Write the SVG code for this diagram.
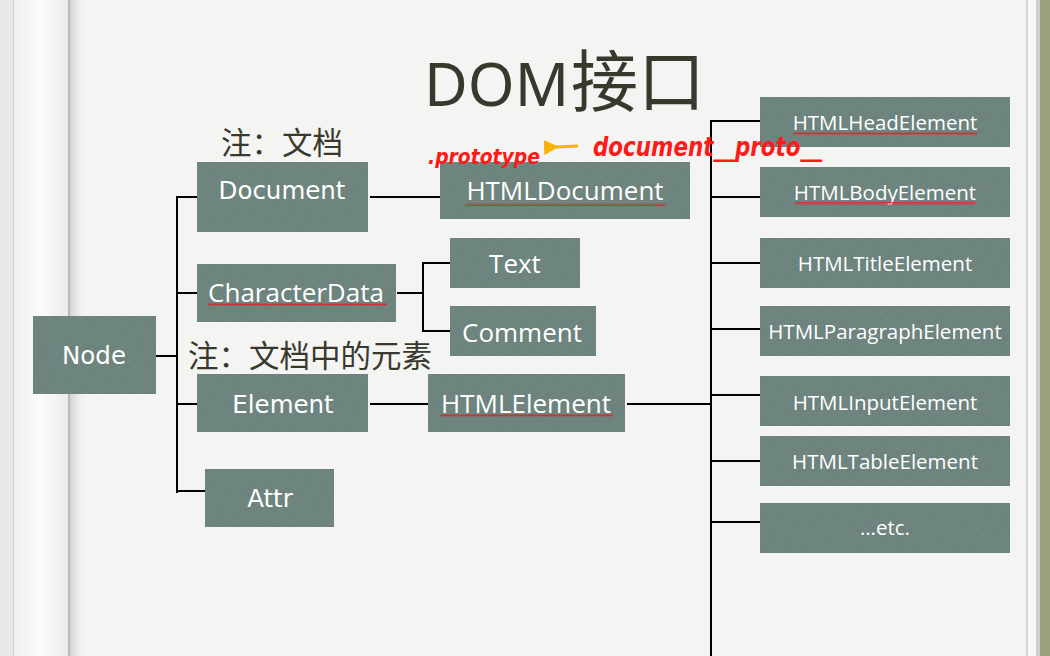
<svg xmlns="http://www.w3.org/2000/svg" width="1050" height="656" viewBox="0 0 1050 656">
<defs>
<linearGradient id="margin" x1="0" y1="0" x2="1" y2="0">
<stop offset="0" stop-color="#efefef"/>
<stop offset="0.5" stop-color="#fbfbfb"/>
<stop offset="1" stop-color="#ececec"/>
</linearGradient>
<linearGradient id="shadow" x1="0" y1="0" x2="1" y2="0">
<stop offset="0" stop-color="#d4d4d4"/>
<stop offset="1" stop-color="#f4f4f2" stop-opacity="0"/>
</linearGradient>
<pattern id="hatch" width="8" height="8" patternUnits="userSpaceOnUse" patternTransform="rotate(-35)">
<rect width="8" height="8" fill="#6d837d"/>
<line x1="0" y1="2" x2="8" y2="2" stroke="#7a8f89" stroke-width="1" opacity="0.5"/>
</pattern>
<pattern id="squiggle" width="4" height="3" patternUnits="userSpaceOnUse">
<path d="M0,2.5 L1,0.5 L2,2.5 L3,0.5 L4,2.5" fill="none" stroke="#e02020" stroke-width="0.8"/>
</pattern>
<marker id="arrowY" viewBox="0 0 10 10" refX="2" refY="5" markerWidth="5" markerHeight="5" orient="auto">
<path d="M10,0 L0,5 L10,10 Z" fill="#f5b400"/>
</marker>
<style>
.box{fill:url(#hatch);}
.v{font-family:"DejaVu Sans",Verdana,sans-serif;font-size:24.5px;fill:#ffffff;text-anchor:middle;}
.c{font-family:"Open Sans","Noto Sans",sans-serif;fill:#ffffff;text-anchor:middle;}
.c26{font-size:26px;}
.c20{font-size:20.5px;}
.note{font-family:"Noto Sans CJK SC","Noto Sans",sans-serif;font-size:30.5px;fill:#38392c;}
.ln{stroke:#000000;stroke-width:2;fill:none;}
.red{font-family:"DejaVu Sans",sans-serif;font-style:italic;font-weight:bold;fill:#ff1a1a;}
</style>
</defs>

<!-- background -->
<rect x="0" y="0" width="1050" height="656" fill="#f4f4f2"/>
<rect x="0" y="0" width="14" height="656" fill="#e7e7e7"/>
<rect x="14" y="0" width="54" height="656" fill="url(#margin)"/>
<rect x="13" y="0" width="1" height="656" fill="#d0d0d0"/>
<rect x="68" y="0" width="2" height="656" fill="#b9b9b9"/>
<rect x="70" y="0" width="18" height="656" fill="url(#shadow)"/>
<rect x="1026" y="0" width="14" height="656" fill="#f8f8f8"/>
<rect x="1026" y="0" width="2" height="656" fill="#d8d8d8"/>
<rect x="1036" y="0" width="4" height="656" fill="#cfcfcf"/>
<rect x="1040" y="0" width="10" height="656" fill="#9a9f7c"/>

<!-- title and notes -->
<text x="424" y="106" fill="#38392c"><tspan font-family="'Noto Sans','Liberation Sans',sans-serif" font-size="60">DOM</tspan><tspan font-family="'Noto Sans CJK SC',sans-serif" font-size="67" dx="2">接口</tspan></text>
<text class="note" x="221" y="154">注：文档</text>
<text class="note" x="188" y="367">注：文档中的元素</text>

<!-- connectors -->
<g id="connectors">
<line class="ln" x1="150" y1="356" x2="177" y2="356"/>
<line class="ln" x1="177" y1="196" x2="177" y2="493"/>
<line class="ln" x1="176" y1="197" x2="205" y2="197"/>
<line class="ln" x1="176" y1="293" x2="206" y2="293"/>
<line class="ln" x1="176" y1="404" x2="205" y2="404"/>
<line class="ln" x1="176" y1="491" x2="205" y2="491"/>
<line class="ln" x1="370" y1="197" x2="440" y2="197"/>
<line class="ln" x1="397" y1="293" x2="423" y2="293"/>
<line class="ln" x1="423" y1="263" x2="423" y2="331"/>
<line class="ln" x1="422" y1="263" x2="450" y2="263"/>
<line class="ln" x1="422" y1="331" x2="450" y2="331"/>
<line class="ln" x1="370" y1="404" x2="428" y2="404"/>
<line class="ln" x1="627" y1="404" x2="711" y2="404"/>
<line class="ln" x1="711" y1="121" x2="711" y2="656"/>
<line class="ln" x1="710" y1="121" x2="760" y2="121"/>
<line class="ln" x1="710" y1="197" x2="760" y2="197"/>
<line class="ln" x1="710" y1="263" x2="760" y2="263"/>
<line class="ln" x1="710" y1="329" x2="760" y2="329"/>
<line class="ln" x1="710" y1="395" x2="760" y2="395"/>
<line class="ln" x1="710" y1="461" x2="760" y2="461"/>
<line class="ln" x1="710" y1="522" x2="760" y2="522"/>
</g>

<!-- nodes -->
<g id="node-Node"><rect class="box" x="33" y="316" width="123" height="78"/><text class="v" x="94" y="364">Node</text></g>
<g id="node-Document"><rect class="box" x="197" y="162" width="171" height="70"/><text class="v" x="282" y="199">Document</text></g>
<g id="node-HTMLDocument"><rect class="box" x="440" y="162" width="250" height="57"/><text class="c c26" x="565" y="200">HTMLDocument</text><rect x="465" y="203" width="200" height="3" fill="url(#squiggle)"/></g>
<g id="node-CharacterData"><rect class="box" x="197" y="264" width="199" height="58"/><text class="c c26" x="296" y="302">CharacterData</text><rect x="208" y="303" width="179" height="3" fill="url(#squiggle)"/></g>
<g id="node-Text"><rect class="box" x="450" y="238" width="130" height="50"/><text class="c c26" x="515" y="273">Text</text></g>
<g id="node-Comment"><rect class="box" x="450" y="306" width="146" height="50"/><text class="c c26" x="522" y="342">Comment</text></g>
<g id="node-Element"><rect class="box" x="197" y="374" width="171" height="58"/><text class="v" x="283" y="413">Element</text></g>
<g id="node-HTMLElement"><rect class="box" x="428" y="374" width="197" height="58"/><text class="c c26" x="526" y="413">HTMLElement</text><rect x="440" y="414" width="173" height="3" fill="url(#squiggle)"/></g>
<g id="node-Attr"><rect class="box" x="205" y="469" width="129" height="58"/><text class="v" x="270" y="507">Attr</text></g>

<g id="node-HTMLHeadElement"><rect class="box" x="760" y="97" width="250" height="50"/><text class="c c20" x="885" y="130">HTMLHeadElement</text><rect x="793" y="132" width="184" height="3" fill="url(#squiggle)"/></g>
<g id="node-HTMLBodyElement"><rect class="box" x="760" y="167" width="250" height="50"/><text class="c c20" x="885" y="200">HTMLBodyElement</text><rect x="795" y="202" width="180" height="3" fill="url(#squiggle)"/></g>
<g id="node-HTMLTitleElement"><rect class="box" x="760" y="238" width="250" height="50"/><text class="c c20" x="885" y="271">HTMLTitleElement</text></g>
<g id="node-HTMLParagraphElement"><rect class="box" x="760" y="306" width="250" height="50"/><text class="c c20" x="885" y="339">HTMLParagraphElement</text></g>
<g id="node-HTMLInputElement"><rect class="box" x="760" y="376" width="250" height="50"/><text class="c c20" x="885" y="410">HTMLInputElement</text></g>
<g id="node-HTMLTableElement"><rect class="box" x="760" y="436" width="250" height="50"/><text class="c c20" x="885" y="469">HTMLTableElement</text></g>
<g id="node-etc"><rect class="box" x="760" y="503" width="250" height="50"/><text class="c c20" x="885" y="535">…etc.</text></g>

<!-- handwritten annotations -->
<g id="annotations">
<text class="red" x="428" y="164" font-size="22" textLength="112" lengthAdjust="spacingAndGlyphs">.prototype</text>
<line x1="578" y1="146" x2="556" y2="147" stroke="#f5b400" stroke-width="3" marker-end="url(#arrowY)"/>
<text class="red" x="593" y="156" font-size="26" textLength="229" lengthAdjust="spacingAndGlyphs">document__proto__</text>
</g>
</svg>
